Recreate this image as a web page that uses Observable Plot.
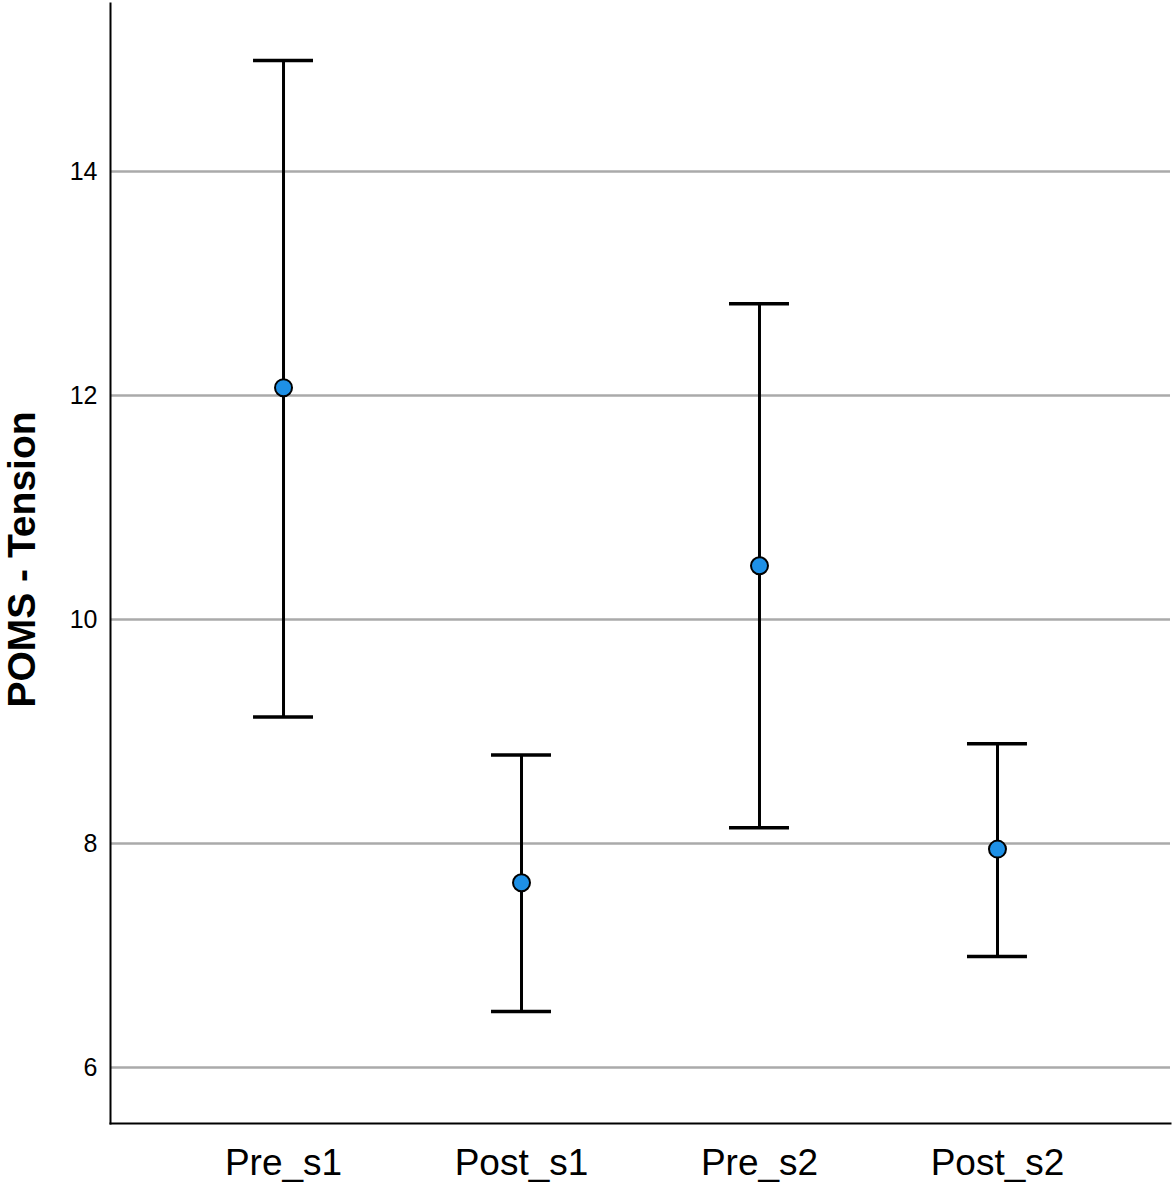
<!DOCTYPE html>
<html><head><meta charset="utf-8">
<script src="https://cdn.jsdelivr.net/npm/d3@7"></script>
<script src="https://cdn.jsdelivr.net/npm/@observablehq/plot@0.6"></script>
<style>body{margin:0;background:#fff} svg{display:block}</style>
</head><body><div id="chart"></div>
<script>
const categories = ["Pre_s1", "Post_s1", "Pre_s2", "Post_s2"];
const means = [12.07, 7.65, 10.48, 7.95];
const lower = [9.13, 6.50, 8.14, 6.99];
const upper = [14.99, 8.79, 12.82, 8.89];
const yTicks = [6, 8, 10, 12, 14];
const yLabel = "POMS - Tension";

const data = categories.map((c, i) => ({cat: c, mean: means[i], lo: lower[i], hi: upper[i]}));
const font = "'Liberation Sans', Arial, sans-serif";

const chart = Plot.plot({
  width: 1173, height: 1183,
  marginLeft: 110, marginRight: 3, marginTop: 3, marginBottom: 60,
  style: {fontFamily: font, background: "#fff", color: "#000", overflow: "visible"},
  x: {type: "band", domain: categories, paddingInner: 0.748, paddingOuter: 0.601, round: false, label: null},
  y: {domain: [5.5, 15.5], label: null},
  marks: [
    Plot.ruleY(yTicks, {stroke: "#aaaaaa", strokeWidth: 2.5}),
    Plot.ruleX(data, {x: "cat", y1: "lo", y2: "hi", stroke: "#000", strokeWidth: 3}),
    Plot.tickY(data, {x: "cat", y: "hi", stroke: "#000", strokeWidth: 3.5}),
    Plot.tickY(data, {x: "cat", y: "lo", stroke: "#000", strokeWidth: 3.5}),
    Plot.dot(data, {x: "cat", y: "mean", r: 8.5, fill: "#1e90e6", stroke: "#000", strokeWidth: 2}),
    Plot.frame({anchor: "left", stroke: "#000", strokeWidth: 2}),
    Plot.frame({anchor: "bottom", stroke: "#000", strokeWidth: 2}),
    Plot.axisY({ticks: yTicks, tickSize: 0, tickPadding: 13, fontSize: 25, label: null}),
    Plot.axisX({tickSize: 0, tickPadding: 25, fontSize: 37, label: null}),
    Plot.text([yLabel], {text: d => d, frameAnchor: "left", textAnchor: "middle", rotate: -90, dx: -76, dy: -4, fontSize: 39, fontWeight: "bold", lineAnchor: "bottom", fill: "#000"})
  ]
});
document.getElementById("chart").appendChild(chart);
</script>
</body></html>
